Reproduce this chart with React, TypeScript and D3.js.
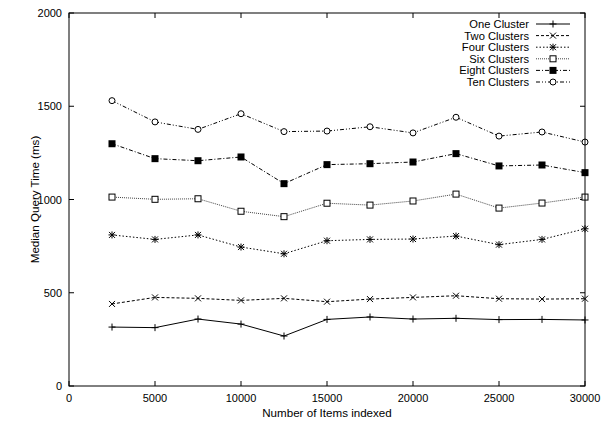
import React from "react";
import * as d3 from "d3";

const itemsIndexed = [2500, 5000, 7500, 10000, 12500, 15000, 17500, 20000, 22500, 25000, 27500, 30000];
const oneCluster = [316, 313, 359, 332, 268, 357, 370, 359, 363, 356, 357, 354];
const twoClusters = [440, 475, 470, 459, 470, 452, 466, 475, 484, 468, 466, 468];
const fourClusters = [810, 786, 810, 745, 709, 779, 786, 788, 804, 758, 786, 843];
const sixClusters = [1013, 1001, 1004, 937, 908, 980, 970, 992, 1029, 954, 981, 1013];
const eightClusters = [1299, 1219, 1208, 1228, 1085, 1187, 1192, 1201, 1246, 1180, 1185, 1144];
const tenClusters = [1530, 1416, 1376, 1460, 1364, 1367, 1390, 1357, 1441, 1340, 1362, 1308];

const xTicks = [0, 5000, 10000, 15000, 20000, 25000, 30000];
const yTicks = [0, 500, 1000, 1500, 2000];

const seriesNames = ["One Cluster", "Two Clusters", "Four Clusters", "Six Clusters", "Eight Clusters", "Ten Clusters"];

type Marker = "plus" | "cross" | "star" | "square" | "fsquare" | "circle";

const series = [
  { name: seriesNames[0], values: oneCluster, dash: "none", marker: "plus" as Marker, stroke: "#000" },
  { name: seriesNames[1], values: twoClusters, dash: "3,2", marker: "cross" as Marker, stroke: "#000" },
  { name: seriesNames[2], values: fourClusters, dash: "1.5,2", marker: "star" as Marker, stroke: "#000" },
  { name: seriesNames[3], values: sixClusters, dash: "1,1", marker: "square" as Marker, stroke: "#444" },
  { name: seriesNames[4], values: eightClusters, dash: "4,2,1,2", marker: "fsquare" as Marker, stroke: "#000" },
  { name: seriesNames[5], values: tenClusters, dash: "4,2,1,2,1,2", marker: "circle" as Marker, stroke: "#000" },
];

const W = 603;
const H = 424;
const margin = { top: 13, right: 18, bottom: 38, left: 69 };
const font = "'Liberation Sans', Arial, Helvetica, sans-serif";

function MarkerShape({ type, x, y }: { type: Marker; x: number; y: number }) {
  const s = 3.5;
  switch (type) {
    case "plus":
      return <path d={`M${x - s},${y}H${x + s}M${x},${y - s}V${y + s}`} stroke="#000" strokeWidth={1} />;
    case "cross":
      return <path d={`M${x - 3},${y - 3}L${x + 3},${y + 3}M${x - 3},${y + 3}L${x + 3},${y - 3}`} stroke="#000" strokeWidth={1} />;
    case "star":
      return (
        <path
          d={`M${x - s},${y}H${x + s}M${x},${y - s}V${y + s}M${x - 3},${y - 3}L${x + 3},${y + 3}M${x - 3},${y + 3}L${x + 3},${y - 3}`}
          stroke="#000"
          strokeWidth={1}
        />
      );
    case "square":
      return <rect x={x - 3} y={y - 3} width={6} height={6} fill="#fff" stroke="#000" strokeWidth={1} />;
    case "fsquare":
      return <rect x={x - 3.5} y={y - 3.5} width={7} height={7} fill="#000" />;
    case "circle":
      return <circle cx={x} cy={y} r={3} fill="#fff" stroke="#000" strokeWidth={1} />;
  }
}

export default function App() {
  const iw = W - margin.left - margin.right;
  const ih = H - margin.top - margin.bottom;

  const x = d3.scaleLinear().domain([0, 30000]).range([margin.left, margin.left + iw]);
  const y = d3.scaleLinear().domain([0, 2000]).range([margin.top + ih, margin.top]);

  const line = d3
    .line<number>()
    .x((_, i) => x(itemsIndexed[i]))
    .y((d) => y(d));

  const tickLen = 5;
  const legendX = 529;
  const legendY0 = 24;
  const legendStep = 11.6;

  return (
    <svg width={W} height={H} style={{ position: "absolute", left: 0, top: 0 }} fontFamily={font}>
      <rect width={W} height={H} fill="#fff" />

      {/* ticks, mirrored on all four sides */}
      <g stroke="#000" strokeWidth={1}>
        {xTicks.map((t) => (
          <g key={"xt" + t}>
            <line x1={x(t)} x2={x(t)} y1={y(0)} y2={y(0) - tickLen} />
            <line x1={x(t)} x2={x(t)} y1={y(2000)} y2={y(2000) + tickLen} />
          </g>
        ))}
        {yTicks.map((t) => (
          <g key={"yt" + t}>
            <line x1={x(0)} x2={x(0) + tickLen} y1={y(t)} y2={y(t)} />
            <line x1={x(30000)} x2={x(30000) - tickLen} y1={y(t)} y2={y(t)} />
          </g>
        ))}
      </g>

      <g fontSize={11} fill="#000">
        {xTicks.map((t) => (
          <text key={"xl" + t} x={x(t)} y={y(0) + 16} textAnchor="middle">
            {t}
          </text>
        ))}
        {yTicks.map((t) => (
          <text key={"yl" + t} x={x(0) - 7} y={y(t) + 4} textAnchor="end">
            {t}
          </text>
        ))}
      </g>
      <g fontSize={11.6} fill="#000">
        <text x={(x(0) + x(30000)) / 2} y={417} textAnchor="middle">
          Number of Items indexed
        </text>
        <text transform={`translate(39,${(y(0) + y(2000)) / 2}) rotate(-90)`} textAnchor="middle">
          Median Query Time (ms)
        </text>
      </g>

      {series.map((s) => (
        <g key={s.name}>
          <path d={line(s.values) || ""} fill="none" stroke={s.stroke} strokeWidth={1} strokeDasharray={s.dash} />
          {s.values.map((v, i) => (
            <MarkerShape key={i} type={s.marker} x={x(itemsIndexed[i])} y={y(v)} />
          ))}
        </g>
      ))}

      {/* legend */}
      <g fontSize={11.2}>
        {series.map((s, i) => {
          const ly = legendY0 + i * legendStep;
          return (
            <g key={"lg" + s.name}>
              <text x={legendX} y={ly + 4} textAnchor="end">
                {s.name}
              </text>
              <line x1={536} x2={570} y1={ly} y2={ly} stroke={s.stroke} strokeWidth={1} strokeDasharray={s.dash} />
              <MarkerShape type={s.marker} x={553} y={ly} />
            </g>
          );
        })}
      </g>

      <rect x={x(0)} y={y(2000)} width={iw} height={ih} fill="none" stroke="#000" strokeWidth={1} />
    </svg>
  );
}
